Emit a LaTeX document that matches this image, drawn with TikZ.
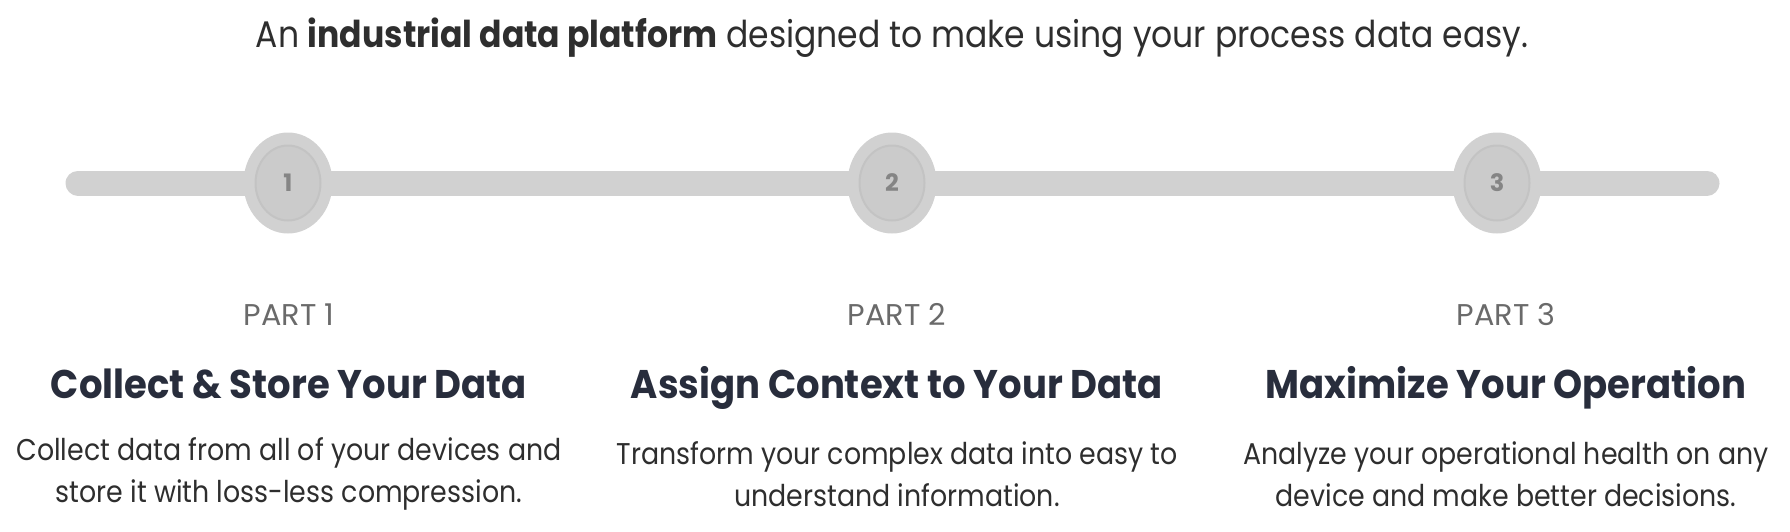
\documentclass[tikz,border=0pt]{standalone}
\usepackage{fontspec}
\setmainfont{Poppins}
\newfontfamily\titlefont[FakeStretch=0.893]{Poppins}
\newfontfamily\partfont[FakeStretch=1.01]{Poppins}
\newfontfamily\headfont[FakeStretch=0.925]{Poppins}
\newfontfamily\bodyfont[FakeStretch=0.894]{Poppins}
\usetikzlibrary{positioning,shapes.geometric}

\definecolor{railgray}{HTML}{D1D1D1}
\definecolor{knobgray}{HTML}{CBCBCB}
\definecolor{knobedge}{HTML}{C3C3C3}
\definecolor{numgray}{HTML}{858585}
\definecolor{partgray}{HTML}{6A6A6A}
\definecolor{headnavy}{HTML}{282D3C}
\definecolor{bodygray}{HTML}{2E2E2E}

\tikzset{
  knob/.style={ellipse, fill=railgray, minimum width=89pt, minimum height=101pt, inner sep=0pt},
  knobin/.style={ellipse, fill=knobgray, draw=knobedge, line width=2pt, minimum width=65pt, minimum height=75pt, inner sep=0pt,
    font=\fontsize{24}{26}\selectfont\bfseries, text=numgray},
  parttext/.style={anchor=base, font=\partfont\fontsize{30}{34}\selectfont, text=partgray},
  headtext/.style={anchor=base, font=\headfont\fontsize{40}{46}\selectfont\bfseries, text=headnavy},
  bodytext/.style={font=\bodyfont\fontsize{30}{42}\selectfont, text=bodygray, align=center}
}

\begin{document}
\begin{tikzpicture}[x=1pt,y=-1pt]
\useasboundingbox (0,0) rectangle (1790,531);

\node[anchor=base, font=\titlefont\fontsize{37}{40}\selectfont, text=bodygray] (title) at (892,47)
  {An \textbf{industrial data platform} designed to make using your process data easy.};

% rail with the three steps
\coordinate (railstart) at (78,183);
\coordinate (railend) at (1707,183);
\draw[railgray, line width=25pt, line cap=round] (railstart) -- (railend);

\foreach \i/\cx/\tx/\head/\body in {
    1/288/289/{Collect \& Store Your Data}/{Collect data from all of your devices and\\store it with loss-less compression.},
    2/892/897/{Assign Context to Your Data}/{Transform your complex data into easy to\\understand information.},
    3/1497/1506/{Maximize Your Operation}/{Analyze your operational health on any\\device and make better decisions.}} {
    \node[knob] (step\i) at (\cx,183) {};
    \node[knobin] (num\i) at (step\i) {\i};
    \node[parttext] (part\i) at (\tx,325) {PART \i};
    \node[headtext] (head\i) at (\tx,398) {\head};
    \node[bodytext] (body\i) at (\tx,474) {\body};
}
\end{tikzpicture}
\end{document}
